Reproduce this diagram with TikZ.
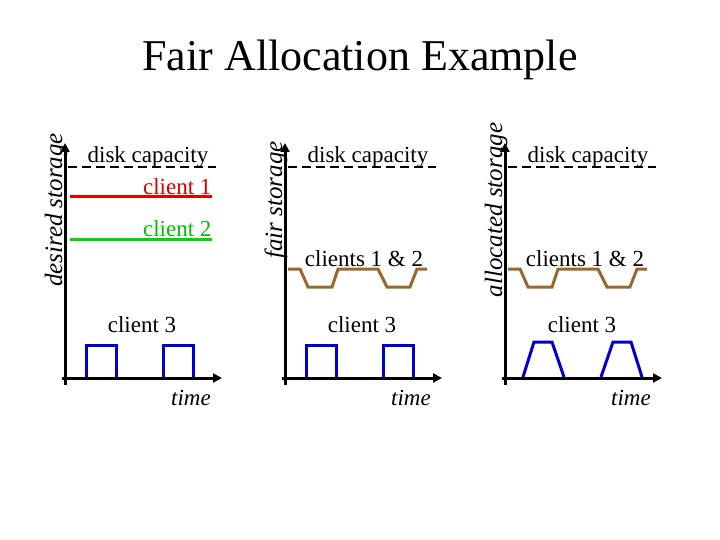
\documentclass[tikz,border=0pt]{standalone}
\usepackage{fontspec}
\setmainfont{Liberation Serif}
\usetikzlibrary{arrows.meta}
\begin{document}
\begin{tikzpicture}[x=1pt,y=-1pt,
  ax/.style={line width=3pt,-{Triangle[length=9pt,width=9pt]}},
  capline/.style={line width=2.5pt,dash pattern=on 9pt off 5pt},
  lbl/.style={font=\fontsize{23}{25}\selectfont},
  axl/.style={font=\fontsize{25}{27}\selectfont\itshape,rotate=90},
  pulse/.style={line width=3pt,draw={rgb,255:red,0;green,0;blue,210}}]
\useasboundingbox (0,0) rectangle (720,540);
\node (title) at (360,60) {\fontsize{44}{46}\selectfont Fair Allocation Example};
\foreach \o/\n/\t/\c in {0/a/desired storage/210,220/b/fair storage/200,440/c/allocated storage/210}{
  \begin{scope}[xshift=\o pt]
  \coordinate (\n y0) at (65,385); \coordinate (\n y1) at (65,143);
  \coordinate (\n x0) at (62,378); \coordinate (\n x1) at (222,378);
  \draw[ax] (\n y0) -- (\n y1);
  \draw[ax] (\n x0) -- (\n x1);
  \coordinate (\n d0) at (68,167); \coordinate (\n d1) at (216,167);
  \draw[capline] (\n d0) -- (\n d1);
  \node[lbl] (\n dc) at (148,157) {disk capacity};
  \node[axl] (\n al) at (56,\c) {\t};
  \node[lbl] (\n c3) at (142,325) {client 3};
  \node[lbl,font=\fontsize{23}{25}\selectfont\itshape] (\n tm) at (191,398) {time};
  \end{scope}
}
% panel 1
\coordinate (r0) at (70,197); \coordinate (r1) at (212,197);
\draw[line width=3pt,red!90!black] (r0) -- (r1);
\node[lbl,text=red!85!black,anchor=east] (c1) at (215,187) {client 1};
\coordinate (g0) at (70,239); \coordinate (g1) at (212,239);
\draw[line width=3pt,green!85!black] (g0) -- (g1);
\node[lbl,text=green!75!black,anchor=east] (c2) at (215,229) {client 2};
\draw[pulse] (86,377) -- (86,345) -- (116,345) -- (116,377);
\draw[pulse] (163,377) -- (163,345) -- (193,345) -- (193,377);
% panel 2
\definecolor{brn}{RGB}{150,105,50}
\draw[line width=3pt,brn] (288,269) -- (300,269) -- (308,287) -- (332,287) -- (338,269) -- (378,269) -- (387,287) -- (410,287) -- (417,269) -- (427,269);
\node[lbl] (b12) at (364,259) {clients 1 \& 2};
\draw[pulse] (306,377) -- (306,345) -- (336,345) -- (336,377);
\draw[pulse] (383,377) -- (383,345) -- (413,345) -- (413,377);
% panel 3
\draw[line width=3pt,brn] (508,269) -- (520,269) -- (528,287) -- (552,287) -- (558,269) -- (598,269) -- (607,287) -- (630,287) -- (637,269) -- (647,269);
\node[lbl] (c12) at (585,259) {clients 1 \& 2};
\draw[pulse] (523,377) -- (534,342) -- (552,342) -- (564,377);
\draw[pulse] (601,377) -- (613,342) -- (631,342) -- (642,377);
\end{tikzpicture}
\end{document}
